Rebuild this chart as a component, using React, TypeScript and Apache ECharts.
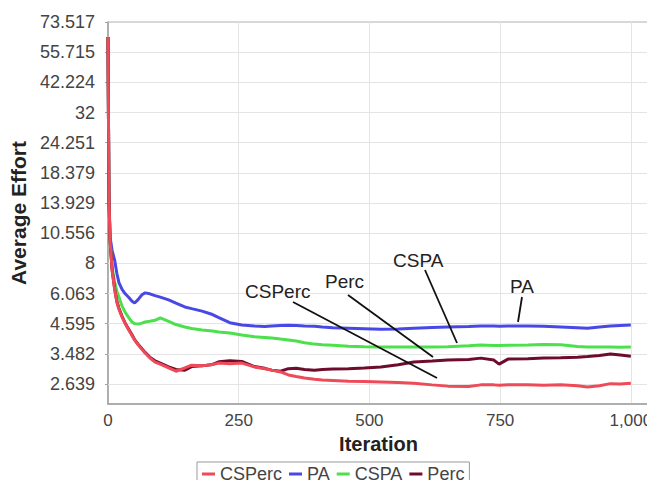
import React, { useEffect, useRef } from 'react';
import * as echarts from 'echarts';

// Iteration sample points shared by every series
const iterations = [
  0, 1, 2, 4, 8, 13, 17, 21, 27, 33, 40, 46, 51, 58, 65, 71, 80, 90, 100, 116,
  130, 147, 160, 180, 200, 212, 233, 256, 280, 300, 313, 330, 345, 360, 376, 395,
  410, 430, 460, 490, 522, 555, 585, 620, 650, 690, 713, 738, 748, 765, 803, 833,
  866, 898, 917, 940, 961, 980, 1000,
];

const csPercValues = [
  64, 30, 14.3, 9.9, 7.5, 6.26, 5.6, 5.25, 4.88, 4.6, 4.33, 4.12, 3.95, 3.78, 3.63, 3.51, 3.36, 3.23, 3.17, 3.06,
  2.97, 3.06, 3.14, 3.12, 3.16, 3.2, 3.18, 3.2, 3.09, 3.04, 3.0, 2.95, 2.87, 2.83, 2.79, 2.76,
  2.74, 2.73, 2.71, 2.7, 2.69, 2.68, 2.66, 2.62, 2.59, 2.58, 2.62, 2.62, 2.61, 2.62, 2.62, 2.61,
  2.62, 2.6, 2.57, 2.6, 2.65, 2.64, 2.66,
];

const paValues = [
  64, 30, 15, 10.2, 9.0, 8.2, 7.3, 6.7, 6.3, 6.05, 5.85, 5.65, 5.56, 5.75, 6.0, 6.1, 6.05, 5.95, 5.87, 5.72,
  5.55, 5.36, 5.28, 5.16, 5.0, 4.86, 4.64, 4.54, 4.5, 4.48, 4.5, 4.52, 4.53, 4.52, 4.5, 4.49,
  4.46, 4.43, 4.41, 4.39, 4.37, 4.38, 4.41, 4.44, 4.46, 4.48, 4.5, 4.5, 4.49, 4.5, 4.5, 4.49,
  4.46, 4.43, 4.41, 4.46, 4.5, 4.52, 4.54,
];

const cspaValues = [
  64, 30, 14.3, 9.9, 7.7, 6.7, 6.2, 5.87, 5.4, 5.1, 4.85, 4.67, 4.6, 4.58, 4.62, 4.67, 4.7, 4.74, 4.85, 4.7,
  4.56, 4.46, 4.4, 4.34, 4.3, 4.26, 4.22, 4.14, 4.08, 4.05, 4.03, 3.99, 3.96, 3.92, 3.86, 3.81,
  3.79, 3.77, 3.74, 3.72, 3.71, 3.71, 3.71, 3.71, 3.72, 3.75, 3.78, 3.76, 3.76, 3.77, 3.78, 3.8,
  3.79, 3.73, 3.71, 3.71, 3.71, 3.7, 3.71,
];

const percValues = [
  64, 30, 14.3, 9.9, 7.5, 6.3, 5.65, 5.3, 4.92, 4.62, 4.36, 4.15, 3.97, 3.8, 3.65, 3.53, 3.38, 3.27, 3.2, 3.09,
  3.02, 3.0, 3.1, 3.12, 3.16, 3.24, 3.27, 3.25, 3.1, 3.05, 3.0, 2.97, 3.04, 3.05, 3.02, 3.0,
  3.02, 3.03, 3.04, 3.06, 3.09, 3.15, 3.23, 3.26, 3.29, 3.31, 3.35, 3.29, 3.17, 3.32, 3.33, 3.35,
  3.36, 3.38, 3.4, 3.43, 3.48, 3.45, 3.41,
];

const seriesNames = ['CSPerc', 'PA', 'CSPA', 'Perc'];
const seriesColors = ['#ee4a58', '#4848e6', '#4ce04c', '#6e0c2c'];

const xTicks = [0, 250, 500, 750, 1000];
// Y axis is logarithmic, base 2, one tick every 0.4 in the exponent starting at 2^1.4
const yTickLabels = [
  '2.639', '3.482', '4.595', '6.063', '8', '10.556', '13.929', '18.379', '24.251', '32', '42.224', '55.715', '73.517',
];
const LOG2_START = 1.4;
const LOG2_STEP = 0.4;

const toAxis = (v: number) => (Math.log2(v) - LOG2_START) / LOG2_STEP;
const pairs = (vals: number[]) => iterations.map((it, i) => [it, toAxis(vals[i])]);
const yTickPositions = yTickLabels.map((_, i) => i);

const FONT = '"Liberation Sans", Arial, Helvetica, sans-serif';

export default function App() {
  const ref = useRef<HTMLDivElement>(null);

  useEffect(() => {
    if (!ref.current) return;
    const chart = echarts.init(ref.current, undefined, { renderer: 'svg' });

    const valueSets = [csPercValues, paValues, cspaValues, percValues];
    const drawOrder = [1, 2, 3, 0];
    const series: any[] = drawOrder.map((idx) => ({
      name: seriesNames[idx],
      type: 'line',
      data: pairs(valueSets[idx]),
      showSymbol: false,
      symbol: 'none',
      color: seriesColors[idx],
      lineStyle: { width: 3, color: seriesColors[idx] },
      z: 6,
    }));
    // horizontal grid lines at the log ticks
    series.unshift({
      name: 'grid',
      type: 'line',
      data: [],
      z: 1,
      silent: true,
      markLine: {
        silent: true,
        z: 1,
        symbol: 'none',
        label: { show: false },
        lineStyle: { color: '#e4e4e4', width: 1, type: 'solid' },
        data: yTickPositions.slice(0, -1).map((k) => ({ yAxis: k })),
      },
    });

    const annText = (text: string, x: number, y: number) => ({
      type: 'text',
      x,
      y,
      z: 100,
      style: {
        text,
        fill: '#222',
        fontSize: 19,
        fontFamily: FONT,
        textAlign: 'left',
        textVerticalAlign: 'middle',
        align: 'left',
        verticalAlign: 'middle',
      },
    });
    const annLine = (x1: number, y1: number, x2: number, y2: number) => ({
      type: 'line',
      z: 100,
      shape: { x1, y1, x2, y2 },
      style: { stroke: '#111', lineWidth: 1.8 },
    });

    chart.setOption({
      animation: false,
      backgroundColor: '#ffffff',
      textStyle: { fontFamily: FONT },
      grid: {
        left: 105,
        right: 5,
        top: 22,
        bottom: 84,
        show: true,
        borderColor: '#b0b0b0',
        borderWidth: 1,
      },
      legend: {
        data: seriesNames,
        left: 197,
        top: 462,
        icon: 'rect',
        itemWidth: 13,
        itemHeight: 3,
        itemGap: 7,
        padding: [3, 5],
        borderColor: '#999',
        borderWidth: 1,
        textStyle: { fontSize: 18, color: '#444', fontFamily: FONT },
      },
      xAxis: {
        type: 'value',
        min: 0,
        max: 1035,
        interval: 250,
        name: 'Iteration',
        nameLocation: 'middle',
        nameGap: 27,
        nameTextStyle: { fontSize: 20, fontWeight: 'bold', color: '#222', fontFamily: FONT },
        axisLine: { show: true, onZero: false, lineStyle: { color: '#a0a0a0', width: 1.5 } },
        axisTick: { show: false },
        axisLabel: {
          fontSize: 17,
          color: '#444',
          margin: 8,
          showMaxLabel: true,
          formatter: (v: number) => (xTicks.includes(v) ? v.toLocaleString('en-US') : ''),
        },
        splitLine: { show: true, lineStyle: { color: '#e4e4e4', width: 1 } },
      },
      yAxis: {
        type: 'value',
        min: -0.66,
        max: 12,
        name: 'Average Effort',
        nameLocation: 'middle',
        nameGap: 75,
        nameTextStyle: { fontSize: 21, fontWeight: 'bold', color: '#222', fontFamily: FONT },
        axisLine: { show: true, onZero: false, lineStyle: { color: '#a0a0a0', width: 1.5 } },
        axisTick: { show: true, length: 3, lineStyle: { color: '#a0a0a0' }, customValues: yTickPositions },
        axisLabel: {
          fontSize: 18,
          color: '#444',
          margin: 13,
          customValues: yTickPositions,
          formatter: (v: number) => {
            const k = Math.round(v);
            return Math.abs(v - k) < 1e-6 && yTickLabels[k] !== undefined ? yTickLabels[k] : '';
          },
        },
        splitLine: { show: false },
      },
      series,
      graphic: [
        annText('CSPerc', 245, 291),
        annText('Perc', 325, 281),
        annText('CSPA', 393, 260),
        annText('PA', 510, 286),
        annLine(293, 302, 437, 378),
        annLine(348, 295, 433, 357),
        annLine(425, 270, 457, 343),
        annLine(522, 297, 518, 322),
      ],
    });

    return () => chart.dispose();
  }, []);

  return <div ref={ref} style={{ width: 655, height: 488, margin: -8 }} />;
}
